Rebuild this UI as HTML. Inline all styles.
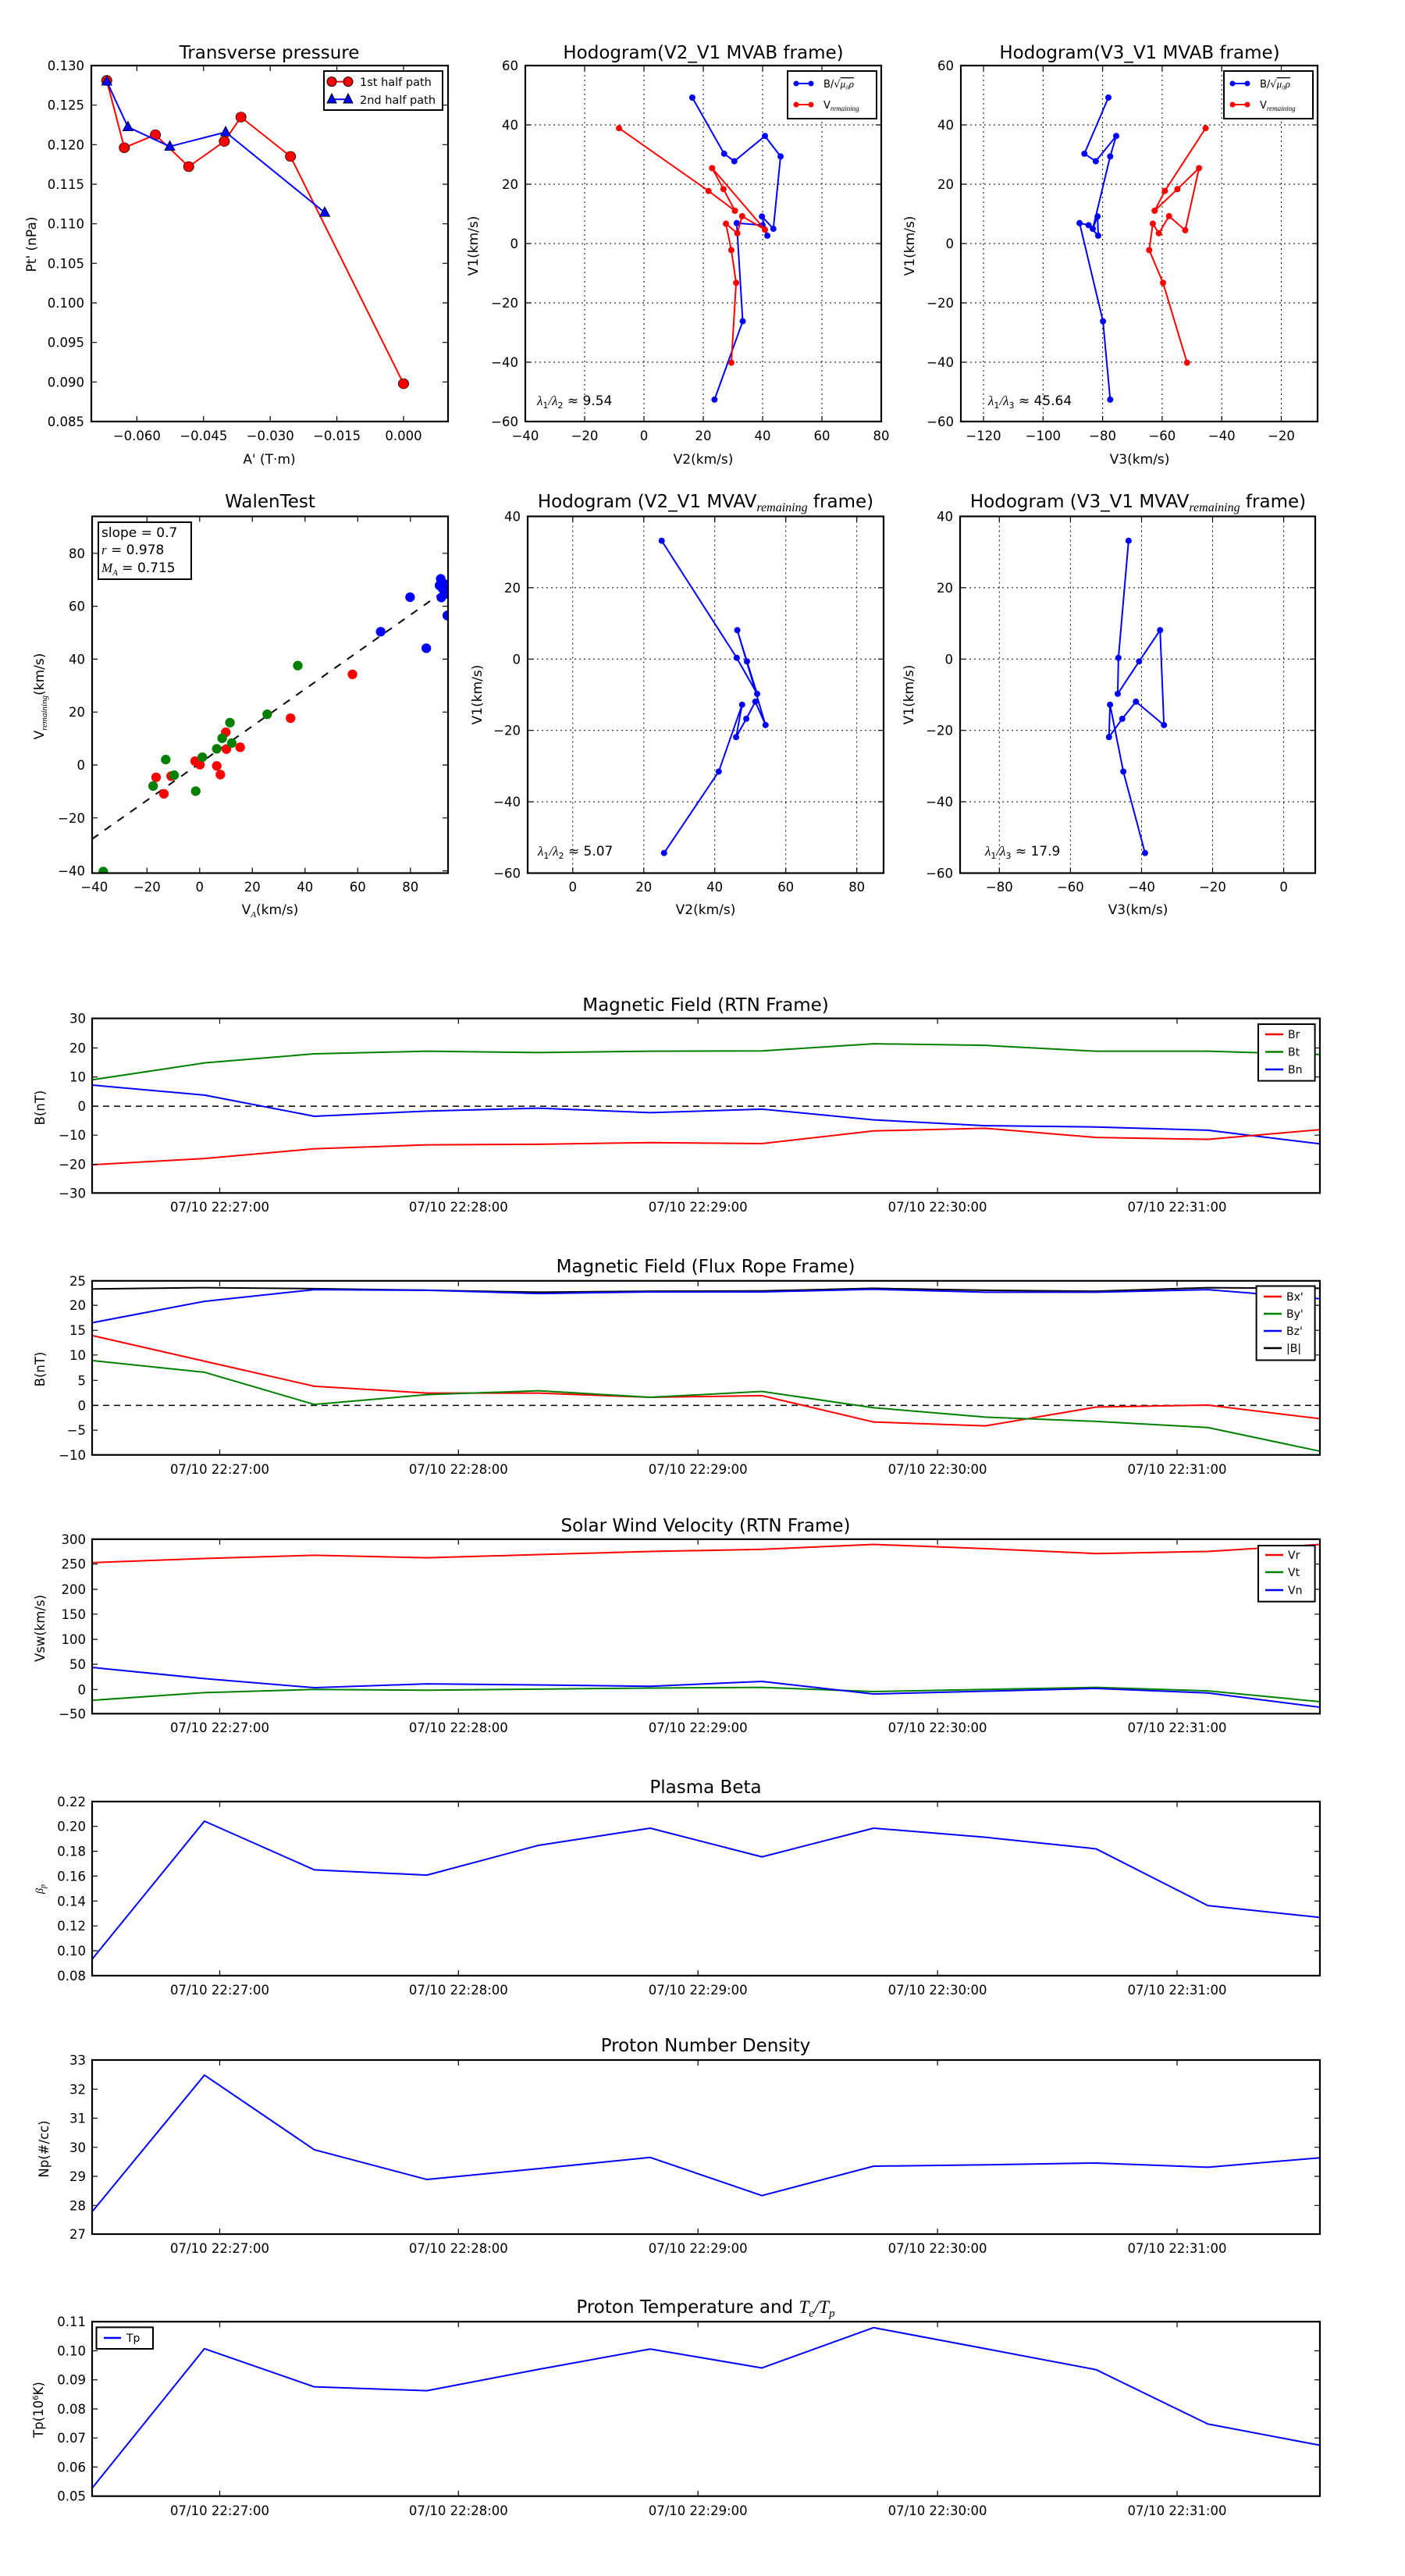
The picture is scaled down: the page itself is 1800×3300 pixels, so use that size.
<!DOCTYPE html>
<html><head><meta charset="utf-8"><style>
body{margin:0;background:#fff}
svg{display:block;font-family:"DejaVu Sans","Liberation Sans",sans-serif}
.t{font-size:16.5px}
.ti{font-size:23px}
.lb{font-size:17px}
.ax{fill:none;stroke:#000;stroke-width:2.2}
.tk{stroke:#000;stroke-width:1.2;fill:none}
.gd{stroke:#000;stroke-width:1;stroke-dasharray:2,4;fill:none}
.ln{fill:none;stroke-width:2;vector-effect:non-scaling-stroke;stroke-linejoin:round}
.m{font-family:"Liberation Serif",serif;font-style:italic}
</style></head><body>
<svg width="1800" height="3300" viewBox="0 0 1800 3300" xmlns="http://www.w3.org/2000/svg">
<defs>
<marker id="pr" markerUnits="userSpaceOnUse" overflow="visible" refX="0" refY="0" markerWidth="1" markerHeight="1"><ellipse rx="11.3" ry="16.9" fill="#f00" stroke="#000" stroke-width="1.5"/></marker>
<marker id="pt" markerUnits="userSpaceOnUse" overflow="visible" refX="0" refY="0" markerWidth="1" markerHeight="1"><polygon points="0,-19 11.5,13 -11.5,13" fill="#00f" stroke="#000" stroke-width="1.5"/></marker>
<marker id="hb" markerUnits="userSpaceOnUse" overflow="visible" refX="0" refY="0" markerWidth="1" markerHeight="1"><ellipse rx="5.2" ry="10.4" fill="#00f"/></marker>
<marker id="hr" markerUnits="userSpaceOnUse" overflow="visible" refX="0" refY="0" markerWidth="1" markerHeight="1"><ellipse rx="5.2" ry="10.4" fill="#f00"/></marker>
<marker id="h5" markerUnits="userSpaceOnUse" overflow="visible" refX="0" refY="0" markerWidth="1" markerHeight="1"><ellipse rx="8.9" ry="10.4" fill="#00f"/></marker>
<marker id="wb" markerUnits="userSpaceOnUse" overflow="visible" refX="0" refY="0" markerWidth="1" markerHeight="1"><ellipse rx="8" ry="16" fill="#00f"/></marker>
<marker id="wr" markerUnits="userSpaceOnUse" overflow="visible" refX="0" refY="0" markerWidth="1" markerHeight="1"><ellipse rx="8" ry="16" fill="#f00"/></marker>
<marker id="wg" markerUnits="userSpaceOnUse" overflow="visible" refX="0" refY="0" markerWidth="1" markerHeight="1"><ellipse rx="8" ry="16" fill="#008000"/></marker>
<clipPath id="cw"><rect x="118" y="662" width="456" height="456"/></clipPath>
</defs>

<!-- ===== Panel 1: Transverse pressure ===== -->
<text class="ti" x="345" y="75" text-anchor="middle">Transverse pressure</text>
<g transform="scale(0.5770,0.38462)">
<polyline class="ln" stroke="#f00" marker-start="url(#pr)" marker-mid="url(#pr)" marker-end="url(#pr)" points="237,268 276,492 345,449 419,555 498,471 535,390 645,521 896,1278"/>
<polyline class="ln" stroke="#00f" marker-start="url(#pt)" marker-mid="url(#pt)" marker-end="url(#pt)" points="237,271 284,423 377,488 501,440 721,708"/>
</g>
<rect class="ax" x="117" y="84" width="457" height="456"/>
<path class="tk" d="M175.4 540v-7M260.8 540v-7M346.2 540v-7M431.6 540v-7M517 540v-7M175.4 84v7M260.8 84v7M346.2 84v7M431.6 84v7M517 84v7M117 134.7h7M117 185.3h7M117 236h7M117 286.7h7M117 337.3h7M117 388h7M117 438.7h7M117 489.3h7M574 134.7h-7M574 185.3h-7M574 236h-7M574 286.7h-7M574 337.3h-7M574 388h-7M574 438.7h-7M574 489.3h-7"/>
<g class="t" text-anchor="end">
<text x="108" y="90">0.130</text><text x="108" y="140.7">0.125</text><text x="108" y="191.3">0.120</text><text x="108" y="242">0.115</text><text x="108" y="292.7">0.110</text><text x="108" y="343.3">0.105</text><text x="108" y="394">0.100</text><text x="108" y="444.7">0.095</text><text x="108" y="495.3">0.090</text><text x="108" y="546">0.085</text>
</g>
<g class="t" text-anchor="middle">
<text x="175.4" y="564">−0.060</text><text x="260.8" y="564">−0.045</text><text x="346.2" y="564">−0.030</text><text x="431.6" y="564">−0.015</text><text x="517" y="564">0.000</text>
</g>
<text class="lb" x="345" y="594" text-anchor="middle">A' (T·m)</text>
<text class="lb" transform="translate(46,313) rotate(-90)" text-anchor="middle">Pt' (nPa)</text>
<rect x="415" y="91" width="152" height="50" fill="#fff" stroke="#000" stroke-width="2"/>
<line x1="425" y1="104.6" x2="446" y2="104.6" stroke="#f00" stroke-width="2"/>
<circle cx="425" cy="104.6" r="6" fill="#f00" stroke="#000"/><circle cx="446" cy="104.6" r="6" fill="#f00" stroke="#000"/>
<line x1="425" y1="127.3" x2="446" y2="127.3" stroke="#00f" stroke-width="2"/>
<polygon points="425,120 431,132 419,132" fill="#00f" stroke="#000"/><polygon points="446,120 452,132 440,132" fill="#00f" stroke="#000"/>
<text x="461" y="110" font-size="14.5">1st half path</text>
<text x="461" y="133" font-size="14.5">2nd half path</text>

<!-- ===== Panel 2: Hodogram V2_V1 MVAB ===== -->
<text class="ti" x="901" y="75" text-anchor="middle">Hodogram(V2_V1 MVAB frame)</text>
<path class="gd" d="M749 84V540M825 84V540M901 84V540M977 84V540M1053 84V540M673 160H1129M673 236H1129M673 312H1129M673 388H1129M673 464H1129"/>
<g transform="translate(600,0) scale(0.76923,0.38462)">
<polyline class="ln" stroke="#00f" marker-start="url(#hb)" marker-mid="url(#hb)" marker-end="url(#hb)" points="373,325 426,512 443,537 494,453 520,521 508,762 489,721 498,785 490,750 447,743 457,1070 410,1331"/>
<polyline class="ln" stroke="#f00" marker-start="url(#hr)" marker-mid="url(#hr)" marker-end="url(#hr)" points="251,427 400,636 444,702 425,630 406,560 494,765 456,720 448,777 429,745 438,833 446,942 438,1208"/>
</g>
<rect class="ax" x="673" y="84" width="456" height="456"/>
<path class="tk" d="M749 540v-7M825 540v-7M901 540v-7M977 540v-7M1053 540v-7M749 84v7M825 84v7M901 84v7M977 84v7M1053 84v7M673 160h7M673 236h7M673 312h7M673 388h7M673 464h7M1129 160h-7M1129 236h-7M1129 312h-7M1129 388h-7M1129 464h-7"/>
<g class="t" text-anchor="end">
<text x="664" y="90">60</text><text x="664" y="166">40</text><text x="664" y="242">20</text><text x="664" y="318">0</text><text x="664" y="394">−20</text><text x="664" y="470">−40</text><text x="664" y="546">−60</text>
</g>
<g class="t" text-anchor="middle">
<text x="673" y="564">−40</text><text x="749" y="564">−20</text><text x="825" y="564">0</text><text x="901" y="564">20</text><text x="977" y="564">40</text><text x="1053" y="564">60</text><text x="1129" y="564">80</text>
</g>
<text class="lb" x="901" y="594" text-anchor="middle">V2(km/s)</text>
<text class="lb" transform="translate(612,315) rotate(-90)" text-anchor="middle">V1(km/s)</text>
<text x="688" y="519" font-size="17"><tspan class="m">λ</tspan><tspan font-size="11" dy="4">1</tspan><tspan dy="-4" class="m">/λ</tspan><tspan font-size="11" dy="4">2</tspan><tspan dy="-4"> ≈ 9.54</tspan></text>
<rect x="1009" y="91" width="114" height="61" fill="#fff" stroke="#000" stroke-width="2"/>
<line x1="1020" y1="107" x2="1039" y2="107" stroke="#00f" stroke-width="2"/><circle cx="1020" cy="107" r="3.5" fill="#00f"/><circle cx="1039" cy="107" r="3.5" fill="#00f"/>
<line x1="1020" y1="134" x2="1039" y2="134" stroke="#f00" stroke-width="2"/><circle cx="1020" cy="134" r="3.5" fill="#f00"/><circle cx="1039" cy="134" r="3.5" fill="#f00"/>
<text x="1055" y="112" font-size="13">B/√<tspan class="m" text-decoration="overline">μ₀ρ</tspan></text>
<text x="1055" y="139" font-size="13">V<tspan class="m" font-size="9" dy="3">remaining</tspan></text>

<!-- ===== Panel 3: Hodogram V3_V1 MVAB ===== -->
<text class="ti" x="1460" y="75" text-anchor="middle">Hodogram(V3_V1 MVAB frame)</text>
<path class="gd" d="M1260 84V540M1336.3 84V540M1412.6 84V540M1488.9 84V540M1565.2 84V540M1641.5 84V540M1231 160H1688M1231 236H1688M1231 312H1688M1231 388H1688M1231 464H1688"/>
<g transform="translate(600,0) scale(0.76923,0.38462)">
<polyline class="ln" stroke="#00f" marker-start="url(#hb)" marker-mid="url(#hb)" marker-end="url(#hb)" points="1066,325 1026,512 1045,537 1079,453 1069,521 1040,762 1048,721 1049,785 1033,750 1018,743 1057,1070 1069,1331"/>
<polyline class="ln" stroke="#f00" marker-start="url(#hr)" marker-mid="url(#hr)" marker-end="url(#hr)" points="1228,427 1160,636 1143,702 1181,630 1217,560 1194,767 1167,720 1150,777 1140,745 1134,833 1157,942 1197,1208"/>
</g>
<rect class="ax" x="1231" y="84" width="457" height="456"/>
<path class="tk" d="M1260 540v-7M1336.3 540v-7M1412.6 540v-7M1488.9 540v-7M1565.2 540v-7M1641.5 540v-7M1260 84v7M1336.3 84v7M1412.6 84v7M1488.9 84v7M1565.2 84v7M1641.5 84v7M1231 160h7M1231 236h7M1231 312h7M1231 388h7M1231 464h7M1688 160h-7M1688 236h-7M1688 312h-7M1688 388h-7M1688 464h-7"/>
<g class="t" text-anchor="end">
<text x="1222" y="90">60</text><text x="1222" y="166">40</text><text x="1222" y="242">20</text><text x="1222" y="318">0</text><text x="1222" y="394">−20</text><text x="1222" y="470">−40</text><text x="1222" y="546">−60</text>
</g>
<g class="t" text-anchor="middle">
<text x="1260" y="564">−120</text><text x="1336.3" y="564">−100</text><text x="1412.6" y="564">−80</text><text x="1488.9" y="564">−60</text><text x="1565.2" y="564">−40</text><text x="1641.5" y="564">−20</text>
</g>
<text class="lb" x="1460" y="594" text-anchor="middle">V3(km/s)</text>
<text class="lb" transform="translate(1171,315) rotate(-90)" text-anchor="middle">V1(km/s)</text>
<text x="1266" y="519" font-size="17"><tspan class="m">λ</tspan><tspan font-size="11" dy="4">1</tspan><tspan dy="-4" class="m">/λ</tspan><tspan font-size="11" dy="4">3</tspan><tspan dy="-4"> ≈ 45.64</tspan></text>
<rect x="1568" y="91" width="114" height="61" fill="#fff" stroke="#000" stroke-width="2"/>
<line x1="1579" y1="107" x2="1598" y2="107" stroke="#00f" stroke-width="2"/><circle cx="1579" cy="107" r="3.5" fill="#00f"/><circle cx="1598" cy="107" r="3.5" fill="#00f"/>
<line x1="1579" y1="134" x2="1598" y2="134" stroke="#f00" stroke-width="2"/><circle cx="1579" cy="134" r="3.5" fill="#f00"/><circle cx="1598" cy="134" r="3.5" fill="#f00"/>
<text x="1614" y="112" font-size="13">B/√<tspan class="m" text-decoration="overline">μ₀ρ</tspan></text>
<text x="1614" y="139" font-size="13">V<tspan class="m" font-size="9" dy="3">remaining</tspan></text>

<!-- ===== Walen Test ===== -->
<text class="ti" x="346" y="650" text-anchor="middle">WalenTest</text>
<g clip-path="url(#cw)">
<g transform="translate(0,600) scale(0.76923,0.38462)">
<line x1="153" y1="1235" x2="746" y2="400" stroke="#000" stroke-width="2" stroke-dasharray="10,10" vector-effect="non-scaling-stroke"/>
<polyline fill="none" stroke="none" marker-start="url(#wr)" marker-mid="url(#wr)" marker-end="url(#wr)" points="587,686 484,832 400,929 376,879 377,935 361,991 367,1020 325,975 333,987 260,1029 285,1025 273,1084"/>
<polyline fill="none" stroke="none" marker-start="url(#wg)" marker-mid="url(#wg)" marker-end="url(#wg)" points="496,657 445,819 383,847 370,899 386,915 361,934 337,962 276,970 290,1022 255,1058 326,1075 172,1343"/>
<polyline fill="none" stroke="none" marker-start="url(#wb)" marker-mid="url(#wb)" marker-end="url(#wb)" points="683,429 734,368 732,390 737,400 740,385 735,430 740,420 745,490 634,544 710,599"/>
</g>
</g>
<rect class="ax" x="118" y="661.5" width="456" height="457"/>
<path class="tk" d="M188.3 1118.5v-7M255.8 1118.5v-7M323.3 1118.5v-7M390.8 1118.5v-7M458.3 1118.5v-7M525.8 1118.5v-7M188.3 661.5v7M255.8 661.5v7M323.3 661.5v7M390.8 661.5v7M458.3 661.5v7M525.8 661.5v7M118 708.8h7M118 776.6h7M118 844.4h7M118 912.2h7M118 980h7M118 1047.8h7M574 708.8h-7M574 776.6h-7M574 844.4h-7M574 912.2h-7M574 980h-7M574 1047.8h-7M574 1115.6h-7"/>
<g class="t" text-anchor="end">
<text x="109" y="714.8">80</text><text x="109" y="782.6">60</text><text x="109" y="850.4">40</text><text x="109" y="918.2">20</text><text x="109" y="986">0</text><text x="109" y="1053.8">−20</text><text x="109" y="1121.6">−40</text>
</g>
<g class="t" text-anchor="middle">
<text x="120.8" y="1142">−40</text><text x="188.3" y="1142">−20</text><text x="255.8" y="1142">0</text><text x="323.3" y="1142">20</text><text x="390.8" y="1142">40</text><text x="458.3" y="1142">60</text><text x="525.8" y="1142">80</text>
</g>
<text class="lb" x="346" y="1171" text-anchor="middle">V<tspan class="m" font-size="11" dy="4">A</tspan><tspan dy="-4">(km/s)</tspan></text>
<text class="lb" transform="translate(56,892) rotate(-90)" text-anchor="middle">V<tspan class="m" font-size="11" dy="4">remaining</tspan><tspan dy="-4">(km/s)</tspan></text>
<rect x="126" y="669" width="119" height="73" fill="#fff" stroke="#000" stroke-width="2"/>
<text x="130" y="688" font-size="17">slope = 0.7</text>
<text x="130" y="710" font-size="17"><tspan class="m">r</tspan> = 0.978</text>
<text x="130" y="733" font-size="17"><tspan class="m">M</tspan><tspan class="m" font-size="11" dy="4">A</tspan><tspan dy="-4"> = 0.715</tspan></text>

<!-- ===== Hodogram V2_V1 MVAV ===== -->
<text class="ti" x="904" y="650" text-anchor="middle">Hodogram (V2_V1 MVAV<tspan class="m" font-size="16" dy="5">remaining</tspan><tspan dy="-5"> frame)</tspan></text>
<path class="gd" d="M733.8 661.5V1118.5M824.8 661.5V1118.5M915.7 661.5V1118.5M1006.7 661.5V1118.5M1097.7 661.5V1118.5M676 752.9H1132M676 844.3H1132M676 935.7H1132M676 1027.1H1132"/>
<g transform="translate(0,600) scale(0.76923,0.38462)">
<polyline class="ln" stroke="#00f" marker-start="url(#hb)" marker-mid="url(#hb)" marker-end="url(#hb)" points="1102,241 1227,631 1261,751 1244,643 1228,539 1275,855 1258,777 1243,834 1226,895 1236,787 1197,1010 1106,1281"/>
</g>
<rect class="ax" x="676" y="661.5" width="456" height="457"/>
<path class="tk" d="M733.8 1118.5v-7M824.8 1118.5v-7M915.7 1118.5v-7M1006.7 1118.5v-7M1097.7 1118.5v-7M733.8 661.5v7M824.8 661.5v7M915.7 661.5v7M1006.7 661.5v7M1097.7 661.5v7M676 752.9h7M676 844.3h7M676 935.7h7M676 1027.1h7M1132 752.9h-7M1132 844.3h-7M1132 935.7h-7M1132 1027.1h-7"/>
<g class="t" text-anchor="end">
<text x="667" y="667.5">40</text><text x="667" y="758.9">20</text><text x="667" y="850.3">0</text><text x="667" y="941.7">−20</text><text x="667" y="1033.1">−40</text><text x="667" y="1124.5">−60</text>
</g>
<g class="t" text-anchor="middle">
<text x="733.8" y="1142">0</text><text x="824.8" y="1142">20</text><text x="915.7" y="1142">40</text><text x="1006.7" y="1142">60</text><text x="1097.7" y="1142">80</text>
</g>
<text class="lb" x="904" y="1171" text-anchor="middle">V2(km/s)</text>
<text class="lb" transform="translate(617,890) rotate(-90)" text-anchor="middle">V1(km/s)</text>
<text x="689" y="1096" font-size="17"><tspan class="m">λ</tspan><tspan font-size="11" dy="4">1</tspan><tspan dy="-4" class="m">/λ</tspan><tspan font-size="11" dy="4">2</tspan><tspan dy="-4"> ≈ 5.07</tspan></text>

<!-- ===== Hodogram V3_V1 MVAV ===== -->
<text class="ti" x="1458" y="650" text-anchor="middle">Hodogram (V3_V1 MVAV<tspan class="m" font-size="16" dy="5">remaining</tspan><tspan dy="-5"> frame)</tspan></text>
<path class="gd" d="M1280.3 661.5V1118.5M1371.4 661.5V1118.5M1462.5 661.5V1118.5M1553.5 661.5V1118.5M1644.6 661.5V1118.5M1230 752.9H1685M1230 844.3H1685M1230 935.7H1685M1230 1027.1H1685"/>
<g transform="translate(1100,600) scale(0.4486,0.38462)">
<polyline class="ln" stroke="#00f" marker-start="url(#h5)" marker-mid="url(#h5)" marker-end="url(#h5)" points="771,241 742,631 740,751 801,643 861,539 872,855 792,777 753,834 715,895 718,787 756,1010 818,1281"/>
</g>
<rect class="ax" x="1230" y="661.5" width="455" height="457"/>
<path class="tk" d="M1280.3 1118.5v-7M1371.4 1118.5v-7M1462.5 1118.5v-7M1553.5 1118.5v-7M1644.6 1118.5v-7M1280.3 661.5v7M1371.4 661.5v7M1462.5 661.5v7M1553.5 661.5v7M1644.6 661.5v7M1230 752.9h7M1230 844.3h7M1230 935.7h7M1230 1027.1h7M1685 752.9h-7M1685 844.3h-7M1685 935.7h-7M1685 1027.1h-7"/>
<g class="t" text-anchor="end">
<text x="1221" y="667.5">40</text><text x="1221" y="758.9">20</text><text x="1221" y="850.3">0</text><text x="1221" y="941.7">−20</text><text x="1221" y="1033.1">−40</text><text x="1221" y="1124.5">−60</text>
</g>
<g class="t" text-anchor="middle">
<text x="1280.3" y="1142">−80</text><text x="1371.4" y="1142">−60</text><text x="1462.5" y="1142">−40</text><text x="1553.5" y="1142">−20</text><text x="1644.6" y="1142">0</text>
</g>
<text class="lb" x="1458" y="1171" text-anchor="middle">V3(km/s)</text>
<text class="lb" transform="translate(1170,890) rotate(-90)" text-anchor="middle">V1(km/s)</text>
<text x="1262" y="1096" font-size="17"><tspan class="m">λ</tspan><tspan font-size="11" dy="4">1</tspan><tspan dy="-4" class="m">/λ</tspan><tspan font-size="11" dy="4">3</tspan><tspan dy="-4"> ≈ 17.9</tspan></text>

<!-- ===== Magnetic Field RTN ===== -->
<text class="ti" x="904" y="1295" text-anchor="middle">Magnetic Field (RTN Frame)</text>
<line x1="118" y1="1417.1" x2="1691" y2="1417.1" stroke="#000" stroke-width="1.5" stroke-dasharray="8,6"/>
<g transform="translate(0,1250) scale(1.15385,0.41667)">
<polyline class="ln" stroke="#008000" points="102,320 227,268 349,240 474,232 598,236 722,232 846,231 970,209 1094,214 1217,232 1341,232 1466,242"/>
<polyline class="ln" stroke="#00f" points="102,336 227,367 349,432 474,416 598,407 722,421 846,410 970,443 1094,461 1217,465 1341,475 1466,517"/>
<polyline class="ln" stroke="#f00" points="102,581 227,562 349,532 474,520 598,518 722,513 846,516 970,477 1094,469 1217,497 1341,503 1466,473"/>
</g>
<rect class="ax" x="118" y="1304.6" width="1573" height="223.7"/>
<path class="tk" d="M281.5 1528.3v-7M587.3 1528.3v-7M894.2 1528.3v-7M1201.1 1528.3v-7M1508 1528.3v-7M281.5 1304.6v7M587.3 1304.6v7M894.2 1304.6v7M1201.1 1304.6v7M1508 1304.6v7M118 1342.5h7M118 1379.6h7M118 1417.1h7M118 1454.2h7M118 1491.7h7M1691 1342.5h-7M1691 1379.6h-7M1691 1417.1h-7M1691 1454.2h-7M1691 1491.7h-7"/>
<g class="t" text-anchor="end">
<text x="110" y="1310.6">30</text><text x="110" y="1348.5">20</text><text x="110" y="1385.6">10</text><text x="110" y="1423.1">0</text><text x="110" y="1460.2">−10</text><text x="110" y="1497.7">−20</text><text x="110" y="1534.3">−30</text>
</g>
<g class="t" text-anchor="middle">
<text x="281.5" y="1552">07/10 22:27:00</text><text x="587.3" y="1552">07/10 22:28:00</text><text x="894.2" y="1552">07/10 22:29:00</text><text x="1201.1" y="1552">07/10 22:30:00</text><text x="1508" y="1552">07/10 22:31:00</text>
</g>
<text class="t" transform="translate(57,1419) rotate(-90)" text-anchor="middle">B(nT)</text>
<rect x="1612" y="1312" width="72.6" height="72.6" fill="#fff" stroke="#000" stroke-width="2"/>
<line x1="1621" y1="1325" x2="1644" y2="1325" stroke="#f00" stroke-width="2.5"/><text x="1650" y="1330" font-size="14">Br</text>
<line x1="1621" y1="1347.5" x2="1644" y2="1347.5" stroke="#008000" stroke-width="2.5"/><text x="1650" y="1352.5" font-size="14">Bt</text>
<line x1="1621" y1="1370" x2="1644" y2="1370" stroke="#00f" stroke-width="2.5"/><text x="1650" y="1375" font-size="14">Bn</text>

<!-- ===== Magnetic Field Flux Rope ===== -->
<text class="ti" x="904" y="1630" text-anchor="middle">Magnetic Field (Flux Rope Frame)</text>
<line x1="118" y1="1800.4" x2="1691" y2="1800.4" stroke="#000" stroke-width="1.5" stroke-dasharray="8,6"/>
<g transform="translate(0,1250) scale(1.15385,0.41667)">
<polyline class="ln" stroke="#000" points="102,963 227,959 349,962 474,967 598,973 722,970 846,969 970,961 1094,967 1217,970 1341,959 1466,961"/>
<polyline class="ln" stroke="#00f" points="102,1067 227,1001 349,965 474,967 598,977 722,972 846,972 970,964 1094,973 1217,973 1341,965 1466,993"/>
<polyline class="ln" stroke="#f00" points="102,1106 227,1185 349,1262 474,1283 598,1283 722,1296 846,1291 970,1372 1094,1384 1217,1326 1341,1320 1466,1362"/>
<polyline class="ln" stroke="#008000" points="102,1183 227,1219 349,1318 474,1288 598,1276 722,1296 846,1278 970,1328 1094,1357 1217,1370 1341,1389 1466,1462"/>
</g>
<rect class="ax" x="118" y="1640.8" width="1573" height="223"/>
<path class="tk" d="M281.5 1863.8v-7M587.3 1863.8v-7M894.2 1863.8v-7M1201.1 1863.8v-7M1508 1863.8v-7M281.5 1640.8v7M587.3 1640.8v7M894.2 1640.8v7M1201.1 1640.8v7M1508 1640.8v7M118 1672.1h7M118 1704.2h7M118 1735.8h7M118 1768.3h7M118 1800.4h7M118 1832.1h7M1691 1672.1h-7M1691 1704.2h-7M1691 1735.8h-7M1691 1768.3h-7M1691 1800.4h-7M1691 1832.1h-7"/>
<g class="t" text-anchor="end">
<text x="110" y="1646.8">25</text><text x="110" y="1678.1">20</text><text x="110" y="1710.2">15</text><text x="110" y="1741.8">10</text><text x="110" y="1774.3">5</text><text x="110" y="1806.4">0</text><text x="110" y="1838.1">−5</text><text x="110" y="1869.8">−10</text>
</g>
<g class="t" text-anchor="middle">
<text x="281.5" y="1888">07/10 22:27:00</text><text x="587.3" y="1888">07/10 22:28:00</text><text x="894.2" y="1888">07/10 22:29:00</text><text x="1201.1" y="1888">07/10 22:30:00</text><text x="1508" y="1888">07/10 22:31:00</text>
</g>
<text class="t" transform="translate(57,1754) rotate(-90)" text-anchor="middle">B(nT)</text>
<rect x="1609.6" y="1647.5" width="75" height="95" fill="#fff" stroke="#000" stroke-width="2"/>
<line x1="1619" y1="1661" x2="1642" y2="1661" stroke="#f00" stroke-width="2.5"/><text x="1648" y="1666" font-size="14">Bx'</text>
<line x1="1619" y1="1683" x2="1642" y2="1683" stroke="#008000" stroke-width="2.5"/><text x="1648" y="1688" font-size="14">By'</text>
<line x1="1619" y1="1705" x2="1642" y2="1705" stroke="#00f" stroke-width="2.5"/><text x="1648" y="1710" font-size="14">Bz'</text>
<line x1="1619" y1="1727" x2="1642" y2="1727" stroke="#000" stroke-width="2.5"/><text x="1648" y="1732" font-size="14">|B|</text>

<!-- ===== Solar Wind Velocity ===== -->
<text class="ti" x="904" y="1962" text-anchor="middle">Solar Wind Velocity (RTN Frame)</text>
<g transform="translate(0,1900) scale(1.15385,0.44871)">
<polyline class="ln" stroke="#f00" points="102,227 227,215 349,206 474,213 598,204 722,195 846,189 970,175 1094,187 1217,201 1341,195 1466,175"/>
<polyline class="ln" stroke="#008000" points="102,620 227,598 349,589 474,591 598,588 722,585 846,583 970,595 1094,589 1217,583 1341,593 1466,624"/>
<polyline class="ln" stroke="#00f" points="102,526 227,558 349,584 474,573 598,576 722,580 846,566 970,602 1094,594 1217,586 1341,599 1466,640"/>
</g>
<rect class="ax" x="118" y="1971.8" width="1573" height="223.5"/>
<path class="tk" d="M281.5 2195.3v-7M587.3 2195.3v-7M894.2 2195.3v-7M1201.1 2195.3v-7M1508 2195.3v-7M281.5 1971.8v7M587.3 1971.8v7M894.2 1971.8v7M1201.1 1971.8v7M1508 1971.8v7M118 2003.7h7M118 2036h7M118 2067.8h7M118 2100.1h7M118 2132h7M118 2164.3h7M1691 2003.7h-7M1691 2036h-7M1691 2067.8h-7M1691 2100.1h-7M1691 2132h-7M1691 2164.3h-7"/>
<g class="t" text-anchor="end">
<text x="110" y="1977.8">300</text><text x="110" y="2009.7">250</text><text x="110" y="2042">200</text><text x="110" y="2073.8">150</text><text x="110" y="2106.1">100</text><text x="110" y="2138">50</text><text x="110" y="2170.3">0</text><text x="110" y="2201.3">−50</text>
</g>
<g class="t" text-anchor="middle">
<text x="281.5" y="2219">07/10 22:27:00</text><text x="587.3" y="2219">07/10 22:28:00</text><text x="894.2" y="2219">07/10 22:29:00</text><text x="1201.1" y="2219">07/10 22:30:00</text><text x="1508" y="2219">07/10 22:31:00</text>
</g>
<text class="t" transform="translate(57,2086) rotate(-90)" text-anchor="middle">Vsw(km/s)</text>
<rect x="1612" y="1980" width="72.6" height="71.7" fill="#fff" stroke="#000" stroke-width="2"/>
<line x1="1621" y1="1992" x2="1644" y2="1992" stroke="#f00" stroke-width="2.5"/><text x="1650" y="1997" font-size="14">Vr</text>
<line x1="1621" y1="2014" x2="1644" y2="2014" stroke="#008000" stroke-width="2.5"/><text x="1650" y="2019" font-size="14">Vt</text>
<line x1="1621" y1="2037" x2="1644" y2="2037" stroke="#00f" stroke-width="2.5"/><text x="1650" y="2042" font-size="14">Vn</text>

<!-- ===== Plasma Beta ===== -->
<text class="ti" x="904" y="2297" text-anchor="middle">Plasma Beta</text>
<g transform="translate(0,1900) scale(1.15385,0.44871)">
<polyline class="ln" stroke="#00f" points="102,1360 227,965 349,1104 474,1119 598,1034 722,985 846,1067 970,985 1094,1011 1217,1044 1341,1206 1466,1240"/>
</g>
<rect class="ax" x="118" y="2307.9" width="1573" height="223"/>
<path class="tk" d="M281.5 2530.9v-7M587.3 2530.9v-7M894.2 2530.9v-7M1201.1 2530.9v-7M1508 2530.9v-7M281.5 2307.9v7M587.3 2307.9v7M894.2 2307.9v7M1201.1 2307.9v7M1508 2307.9v7M118 2339.7h7M118 2371.6h7M118 2403.4h7M118 2435.3h7M118 2467.2h7M118 2499h7M1691 2339.7h-7M1691 2371.6h-7M1691 2403.4h-7M1691 2435.3h-7M1691 2467.2h-7M1691 2499h-7"/>
<g class="t" text-anchor="end">
<text x="110" y="2313.9">0.22</text><text x="110" y="2345.7">0.20</text><text x="110" y="2377.6">0.18</text><text x="110" y="2409.4">0.16</text><text x="110" y="2441.3">0.14</text><text x="110" y="2473.2">0.12</text><text x="110" y="2505">0.10</text><text x="110" y="2536.9">0.08</text>
</g>
<g class="t" text-anchor="middle">
<text x="281.5" y="2555">07/10 22:27:00</text><text x="587.3" y="2555">07/10 22:28:00</text><text x="894.2" y="2555">07/10 22:29:00</text><text x="1201.1" y="2555">07/10 22:30:00</text><text x="1508" y="2555">07/10 22:31:00</text>
</g>
<text transform="translate(55,2420) rotate(-90)" text-anchor="middle" font-size="14"><tspan class="m">β</tspan><tspan class="m" font-size="10" dy="3">p</tspan></text>

<!-- ===== Proton Number Density ===== -->
<text class="ti" x="904" y="2628" text-anchor="middle">Proton Number Density</text>
<g transform="translate(0,2600) scale(1.15385,0.44871)">
<polyline class="ln" stroke="#00f" points="102,521 227,130 349,343 474,428 598,397 722,365 846,474 970,390 1094,386 1217,381 1341,393 1466,366"/>
</g>
<rect class="ax" x="118" y="2639" width="1573" height="223"/>
<path class="tk" d="M281.5 2862v-7M587.3 2862v-7M894.2 2862v-7M1201.1 2862v-7M1508 2862v-7M281.5 2639v7M587.3 2639v7M894.2 2639v7M1201.1 2639v7M1508 2639v7M118 2676.3h7M118 2713.5h7M118 2750.8h7M118 2788h7M118 2825.3h7M1691 2676.3h-7M1691 2713.5h-7M1691 2750.8h-7M1691 2788h-7M1691 2825.3h-7"/>
<g class="t" text-anchor="end">
<text x="110" y="2645">33</text><text x="110" y="2682.3">32</text><text x="110" y="2719.5">31</text><text x="110" y="2756.8">30</text><text x="110" y="2794">29</text><text x="110" y="2831.3">28</text><text x="110" y="2868">27</text>
</g>
<g class="t" text-anchor="middle">
<text x="281.5" y="2886">07/10 22:27:00</text><text x="587.3" y="2886">07/10 22:28:00</text><text x="894.2" y="2886">07/10 22:29:00</text><text x="1201.1" y="2886">07/10 22:30:00</text><text x="1508" y="2886">07/10 22:31:00</text>
</g>
<text class="t" transform="translate(62,2753) rotate(-90)" text-anchor="middle">Np(#/cc)</text>

<!-- ===== Proton Temperature ===== -->
<text class="ti" x="904" y="2963" text-anchor="middle">Proton Temperature and <tspan class="m">T</tspan><tspan class="m" font-size="15" dy="5">e</tspan><tspan class="m" dy="-5">/T</tspan><tspan class="m" font-size="15" dy="5">p</tspan></text>
<g transform="translate(0,2600) scale(1.15385,0.44871)">
<polyline class="ln" stroke="#00f" points="102,1310 227,911 349,1020 474,1031 598,970 722,912 846,966 970,851 1094,911 1217,971 1341,1126 1466,1187"/>
</g>
<rect class="ax" x="118" y="2974.2" width="1573" height="223.5"/>
<path class="tk" d="M281.5 3197.7v-7M587.3 3197.7v-7M894.2 3197.7v-7M1201.1 3197.7v-7M1508 3197.7v-7M281.5 2974.2v7M587.3 2974.2v7M894.2 2974.2v7M1201.1 2974.2v7M1508 2974.2v7M118 3011.5h7M118 3048.7h7M118 3086h7M118 3123.2h7M118 3160.4h7M1691 3011.5h-7M1691 3048.7h-7M1691 3086h-7M1691 3123.2h-7M1691 3160.4h-7"/>
<g class="t" text-anchor="end">
<text x="110" y="2980.2">0.11</text><text x="110" y="3017.5">0.10</text><text x="110" y="3054.7">0.09</text><text x="110" y="3092">0.08</text><text x="110" y="3129.2">0.07</text><text x="110" y="3166.4">0.06</text><text x="110" y="3203.7">0.05</text>
</g>
<g class="t" text-anchor="middle">
<text x="281.5" y="3222">07/10 22:27:00</text><text x="587.3" y="3222">07/10 22:28:00</text><text x="894.2" y="3222">07/10 22:29:00</text><text x="1201.1" y="3222">07/10 22:30:00</text><text x="1508" y="3222">07/10 22:31:00</text>
</g>
<text class="t" transform="translate(55,3087) rotate(-90)" text-anchor="middle">Tp(10<tspan font-size="10" dy="-6">6</tspan><tspan dy="6">K)</tspan></text>
<rect x="123.5" y="2981.4" width="72.5" height="27.6" fill="#fff" stroke="#000" stroke-width="2"/>
<line x1="133" y1="2995" x2="155" y2="2995" stroke="#00f" stroke-width="2.5"/><text x="162" y="3000" font-size="14">Tp</text>
</svg>
</body></html>
